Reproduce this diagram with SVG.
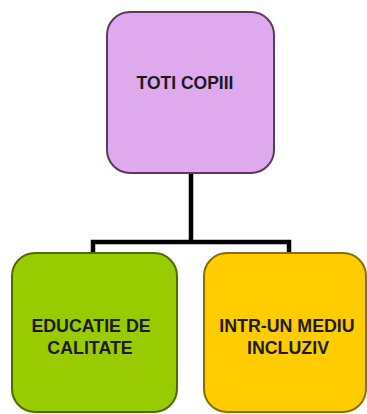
<svg xmlns="http://www.w3.org/2000/svg" width="367" height="414" viewBox="0 0 367 414">
<style>
.box{stroke-width:2}
.lbl{font-family:"Liberation Sans",Arial,sans-serif;font-weight:bold;fill:#1c1a1c;text-anchor:middle}
.conn{stroke:#000;stroke-width:4.5;fill:none}
</style>
<rect width="367" height="414" fill="#fff"/>
<g id="connectors">
<path class="conn" d="M191,173 V242 M93,253 V242 H289 V253"/>
</g>
<g id="node-toti">
<rect class="box" x="107" y="12" width="167" height="161" rx="23" fill="#dfaaed" stroke="#5a3c5a"/>
<text class="lbl" x="185" y="89" font-size="17.5">TOTI COPIII</text>
</g>
<g id="node-educatie">
<rect class="box" x="12" y="253" width="165" height="159" rx="23" fill="#99cc00" stroke="#4f6b00"/>
<text class="lbl" x="91" y="332" font-size="17.8">EDUCATIE DE</text>
<text class="lbl" x="90" y="354" font-size="17.8">CALITATE</text>
</g>
<g id="node-mediu">
<rect class="box" x="204" y="253" width="162" height="159" rx="23" fill="#ffcc00" stroke="#8a6e00"/>
<text class="lbl" x="287" y="332" font-size="17.8">INTR-UN MEDIU</text>
<text class="lbl" x="288" y="354" font-size="17.8">INCLUZIV</text>
</g>
</svg>
